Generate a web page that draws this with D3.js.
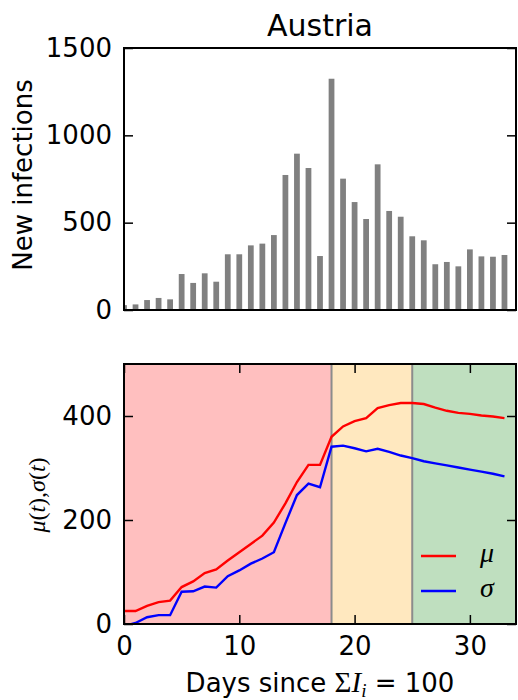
<!DOCTYPE html>
<html><head><meta charset="utf-8">
<script src="https://cdn.jsdelivr.net/npm/d3@7"></script>
<style>
body{margin:0;background:#fff;}
text{font-family:"DejaVu Sans",sans-serif;fill:#000;}
.m{font-family:"Liberation Serif",serif;font-style:italic;}
.mr{font-family:"Liberation Serif",serif;}
</style></head>
<body><svg id="c" width="518" height="700"></svg>
<script>
const days = d3.range(0, 34);
const newInfections = [28,32,57,69,61,206,155,210,162,319,319,370,380,429,773,895,813,309,1324,752,618,521,834,567,534,422,399,262,275,250,347,307,305,315];
const mu = [25,25,35,42,45,71,82,98,105,122,138,154,170,195,232,273,306,306,360,380,390,396,415,421,425,425,423,416,410,406,404,401,399,396];
const sigma = [-4,2,13,17,17,62,63,72,70,92,103,116,126,138,194,248,270,263,341,343,338,332,337,331,324,319,313,309,305,301,297,293,289,284];
const phases = [[0,18,"rgba(255,0,0,0.25)"],[18,25,"rgba(255,165,0,0.25)"],[25,34,"rgba(0,128,0,0.25)"]];
const phaseBounds = [18,25];
const topTicks = [0,500,1000,1500];
const botTicks = [0,200,400];
const xTicks = [0,10,20,30];

const svg = d3.select("#c");
const L=124, R=516;
const x = d3.scaleLinear().domain([0,34]).range([L,R]);
const yT = d3.scaleLinear().domain([0,1500]).range([310,48]);
const yB = d3.scaleLinear().domain([0,500]).range([624,364]);
const fmt = d3.format("d");

const defs = svg.append("defs");
defs.append("clipPath").attr("id","cT").append("rect").attr("x",L).attr("y",48).attr("width",R-L).attr("height",310-48);
defs.append("clipPath").attr("id","cB").append("rect").attr("x",L).attr("y",364).attr("width",R-L).attr("height",624-364);

function styleAxis(g){
  g.select(".domain").remove();
  g.selectAll(".tick line").attr("stroke","#000").attr("stroke-width",1.5);
  g.selectAll(".tick text").style("font-size","26px").style("font-family","DejaVu Sans");
}

// ---- top plot
svg.append("text").attr("x",(L+R)/2).attr("y",36).attr("text-anchor","middle").style("font-size","30px").text("Austria");
const gT = svg.append("g").attr("clip-path","url(#cT)");
const bw = (x(0.5)-x(0));
gT.selectAll("rect").data(days).enter().append("rect")
  .attr("x",d=>x(d)-bw/2).attr("width",bw)
  .attr("y",(d,i)=>yT(newInfections[i])).attr("height",(d,i)=>yT(0)-yT(newInfections[i]))
  .attr("fill","#808080");
svg.append("g").attr("transform",`translate(${L},0)`).call(d3.axisLeft(yT).tickValues(topTicks).tickFormat(fmt).tickSize(-9).tickPadding(12)).call(styleAxis);
svg.append("g").attr("transform",`translate(${R},0)`).call(d3.axisRight(yT).tickValues(topTicks).tickSize(-9).tickFormat("")).call(styleAxis);
svg.append("rect").attr("x",L).attr("y",48).attr("width",R-L).attr("height",310-48).attr("fill","none").attr("stroke","#000").attr("stroke-width",2);
svg.append("text").attr("transform","translate(32,175) rotate(-90)").attr("text-anchor","middle").style("font-size","26px").text("New infections");

// ---- bottom plot
const gB = svg.append("g").attr("clip-path","url(#cB)");
gB.selectAll("rect.ph").data(phases).enter().append("rect").attr("class","ph")
  .attr("x",d=>x(d[0])).attr("width",d=>x(d[1])-x(d[0])).attr("y",364).attr("height",624-364).attr("fill",d=>d[2]);
gB.selectAll("line.pb").data(phaseBounds).enter().append("line").attr("class","pb")
  .attr("x1",d=>x(d)).attr("x2",d=>x(d)).attr("y1",364).attr("y2",624).attr("stroke","#8c8c8c").attr("stroke-width",2);
const lineMu = d3.line().x((d,i)=>x(days[i])).y(d=>yB(d));
gB.append("path").attr("d",lineMu(mu)).attr("fill","none").attr("stroke","#ff0000").attr("stroke-width",2.4);
gB.append("path").attr("d",lineMu(sigma)).attr("fill","none").attr("stroke","#0000ff").attr("stroke-width",2.4);

svg.append("g").attr("transform",`translate(${L},0)`).call(d3.axisLeft(yB).tickValues(botTicks).tickFormat(fmt).tickSize(-9).tickPadding(12)).call(styleAxis);
svg.append("g").attr("transform",`translate(${R},0)`).call(d3.axisRight(yB).tickValues(botTicks).tickSize(-9).tickFormat("")).call(styleAxis);
svg.append("g").attr("transform",`translate(0,624)`).call(d3.axisBottom(x).tickValues(xTicks).tickFormat(fmt).tickSize(-9).tickPadding(13)).call(styleAxis);
svg.append("g").attr("transform",`translate(0,364)`).call(d3.axisTop(x).tickValues(xTicks).tickSize(-9).tickFormat("")).call(styleAxis);
svg.append("rect").attr("x",L).attr("y",364).attr("width",R-L).attr("height",624-364).attr("fill","none").attr("stroke","#000").attr("stroke-width",2);

// legend
const leg = [["μ","#ff0000",556],["σ","#0000ff",591]];
leg.forEach(([t,c,yy])=>{
  svg.append("line").attr("x1",421).attr("x2",456).attr("y1",yy).attr("y2",yy).attr("stroke",c).attr("stroke-width",2.4);
  svg.append("text").attr("class","m").attr("x",480).attr("y",yy+6).style("font-size","28px").text(t);
});

// y label bottom
const yl = svg.append("text").attr("transform","translate(45,495) rotate(-90)").attr("text-anchor","middle").style("font-size","24px");
[["μ",1],["(",0],["t",1],[")",0],[",",0],["σ",1],["(",0],["t",1],[")",0]].forEach(([s,it])=>{
  yl.append("tspan").attr("class",it?"m":"mr").text(s);
});

// x label
const xl = svg.append("text").attr("x",320).attr("y",692).attr("text-anchor","middle").style("font-size","26px");
xl.append("tspan").text("Days since ");
xl.append("tspan").attr("class","mr").style("font-size","29px").text("Σ");
xl.append("tspan").attr("class","m").style("font-size","29px").text("I");
xl.append("tspan").attr("class","m").style("font-size","19px").attr("dy",5).text("i");
xl.append("tspan").attr("dy",-5).text(" = 100");
</script></body></html>
